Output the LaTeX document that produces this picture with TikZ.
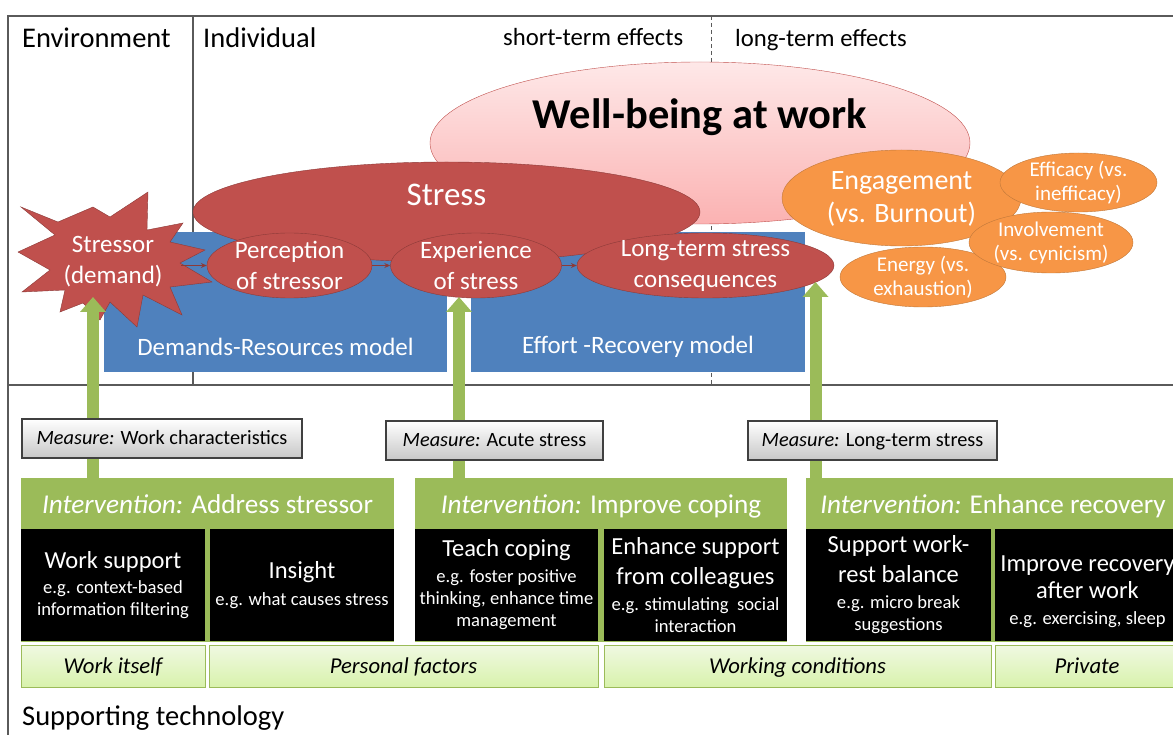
\documentclass[tikz,border=0pt]{standalone}
\usepackage{fontspec}
\setmainfont{Carlito}
\usetikzlibrary{shapes.geometric,arrows.meta}

\definecolor{stressred}{HTML}{C0504D}
\definecolor{stressline}{HTML}{8C3A38}
\definecolor{modelblue}{HTML}{4F81BD}
\definecolor{engorange}{HTML}{F79646}
\definecolor{engline}{HTML}{C0783A}
\definecolor{intgreen}{HTML}{9BBB59}
\definecolor{wbtop}{HTML}{FEE8E8}
\definecolor{wbbottom}{HTML}{FBB2B2}
\definecolor{framegray}{HTML}{5A5A5A}
\definecolor{areatop}{HTML}{F0F9E2}
\definecolor{areabottom}{HTML}{D8F2AC}

\newcommand{\fsz}[2]{\fontsize{#1}{#2}\selectfont}
\newcommand{\bigline}[1]{{\fsz{24.5}{30}#1}}

\begin{document}
\begin{tikzpicture}[x=1pt,y=-1pt,
  every node/.style={inner sep=0pt},
  frameline/.style={draw=framegray, line width=1.4pt},
  toplabel/.style={anchor=base west, font=\fsz{28.5}{34}},
  phase/.style={ellipse, draw=stressline, fill=stressred, minimum height=65pt},
  phasetext/.style={text=white, align=center, font=\fsz{25}{31}},
  effect/.style={ellipse, draw=engline, fill=engorange},
  effecttext/.style={text=white, align=center, font=\fsz{21}{24}},
  modelbox/.style={fill=modelblue, minimum height=140pt},
  modeltext/.style={text=white, font=\fsz{25}{30}},
  smallarrow/.style={draw=stressline, line width=0.9pt, -{Stealth[length=6pt,width=5pt]}},
  liftarrow/.style={draw=intgreen, line width=12pt, -{Triangle[width=25pt,length=15pt]}},
  measurebox/.style={draw=black!75, line width=1.2pt, top color=white, bottom color=black!22, font=\fsz{20.3}{24}, minimum height=39pt, text height=14pt, text depth=2pt},
  intbox/.style={fill=intgreen, minimum height=164pt},
  inthead/.style={text=white, font=\fsz{27.2}{32}, text height=19pt, text depth=3pt},
  tipbox/.style={fill=black, text=white, align=center, minimum height=112pt, font=\fsz{18.6}{22}},
  areabar/.style={draw=intgreen, line width=1pt, top color=areatop, bottom color=areabottom, minimum height=42pt, font=\fsz{22.7}{26}\itshape, text height=16pt, text depth=2pt}]
\useasboundingbox (0,0) rectangle (1173,735);

\draw[frameline] (1173,16) -- (8,16) -- (8,735);
\draw[frameline] (8,385) -- (1173,385);
\draw[frameline] (193,16) -- (193,385);
\draw[draw=framegray, line width=1pt, dash pattern=on 4pt off 3pt] (711,16) -- (711,385);

\node[toplabel] (environment) at (22,48) {Environment};
\node[toplabel] (individual) at (203,48) {Individual};
\node[toplabel, font=\fsz{24.7}{30}] (shortterm) at (503,46) {short-term effects};
\node[toplabel, font=\fsz{24.7}{30}] (longtermfx) at (735,47) {long-term effects};

\node[ellipse, draw=stressred, top color=wbtop, bottom color=wbbottom, minimum width=540pt, minimum height=162pt] (wellbeing) at (700,143) {};
\node[font=\fsz{42.5}{48}\bfseries] (wellbeingtext) at (700,117) {Well-being at work};

\node[modelbox, minimum width=343pt] (drmodel) at (275.5,302) {};
\node[modeltext] (drtext) at (275.5,347) {Demands-Resources model};
\node[modelbox, minimum width=334pt] (ermodel) at (638,302) {};
\node[modeltext] (ertext) at (638,347) {Effort -Recovery model};

\node[ellipse, draw=stressline, fill=stressred, minimum width=507pt, minimum height=100pt] (stress) at (446.5,212) {};
\node[text=white, font=\fsz{33}{38}] (stresstext) at (446.5,195) {Stress};

\node[effect, minimum width=239pt, minimum height=96pt] (engagement) at (901.5,198) {};
\node[effecttext, font=\fsz{28}{33}] (engagementtext) at (901.5,199) {Engagement\\(vs. Burnout)};
\node[effect, minimum width=166pt, minimum height=60pt] (energy) at (923,277) {};
\node[effecttext] (energytext) at (923,277) {Energy (vs.\\exhaustion)};
\node[effect, minimum width=157pt, minimum height=59pt] (efficacy) at (1078.5,182.5) {};
\node[effecttext] (efficacytext) at (1078.5,182.5) {Efficacy (vs.\\inefficacy)};
\node[effect, minimum width=164pt, minimum height=61pt] (involvement) at (1051,242.5) {};
\node[effecttext] (involvementtext) at (1051,242.5) {Involvement\\(vs. cynicism)};

\filldraw[fill=stressred, draw=stressline] (21,207) -- (58,222) -- (93,207) -- (110,217) -- (148,192) -- (147,230) -- (183,223) -- (170,242) -- (205,250) -- (180,263) -- (212,282) -- (170,287) -- (182,315) -- (143,295) -- (137,327) -- (110,302) -- (100,320) -- (83,303) -- (60,312) -- (65,290) -- (22,292) -- (50,270) -- (18,252) -- (55,235) -- cycle;
\node[phasetext] (stressor) at (113,262) {Stressor\\(demand)};
\coordinate (stressortip) at (181,265.5);

\node[phase, minimum width=165pt] (perception) at (289.5,265.5) {};
\node[phasetext] (perceptiontext) at (289.5,265.5) {Perception\\of stressor};
\node[phase, minimum width=171pt] (experience) at (476,265.5) {};
\node[phasetext] (experiencetext) at (476,265.5) {Experience\\of stress};
\node[phase, minimum width=257pt] (longterm) at (705.5,265.5) {};
\node[phasetext] (longtermtext) at (705.5,265.5) {Long-term stress\\consequences};

\draw[smallarrow] (stressortip) -- (perception);
\draw[smallarrow] (perception) -- (experience);
\draw[smallarrow] (experience) -- (longterm);

\node[intbox, minimum width=373pt] (int1) at (207.5,560) {};
\node[inthead] (int1head) at (207.5,505) {\textit{Intervention:} Address stressor};
\node[intbox, minimum width=372pt] (int2) at (601,560) {};
\node[inthead] (int2head) at (601,505) {\textit{Intervention:} Improve coping};
\node[intbox, minimum width=374pt] (int3) at (993,560) {};
\node[inthead] (int3head) at (993,505) {\textit{Intervention:} Enhance recovery};

\coordinate (tip1) at (93,297);
\coordinate (tip2) at (459,297);
\coordinate (tip3) at (815.5,282);
\draw[liftarrow] (int1.north -| tip1) -- (tip1);
\draw[liftarrow] (int2.north -| tip2) -- (tip2);
\draw[liftarrow] (int3.north -| tip3) -- (tip3);

\node[measurebox, minimum width=280pt] (measure1) at (162,438.5) {\textit{Measure:} Work characteristics};
\node[measurebox, minimum width=217pt] (measure2) at (494.5,440.5) {\textit{Measure:} Acute stress};
\node[measurebox, minimum width=249pt] (measure3) at (872.5,440.5) {\textit{Measure:} Long-term stress};

\node[tipbox, minimum width=184pt] (worksupport) at (113,585) {\bigline{Work support}\\[3pt]e.g. context-based\\information filtering};
\node[tipbox, minimum width=184pt] (insight) at (302,585) {\bigline{Insight}\\[5pt]e.g. what causes stress};
\node[tipbox, minimum width=183pt] (teachcoping) at (506.5,585) {\bigline{Teach coping}\\[4pt]e.g. foster positive\\thinking, enhance time\\management};
\node[tipbox, minimum width=183pt] (colleagues) at (695.5,585) {\bigline{Enhance support}\\[8pt]\bigline{from colleagues}\\[4pt]e.g. stimulating\ \ social\\interaction};
\node[tipbox, minimum width=185pt] (workrest) at (898.5,585) {\bigline{Support work-}\\[8pt]\bigline{rest balance}\\[4pt]e.g. micro break\\suggestions};
\node[tipbox, minimum width=185pt] (afterwork) at (1087.5,585) {\bigline{\rule{0pt}{29pt}Improve recovery}\\[5pt]\bigline{after work}\\[4pt]e.g. exercising, sleep};

\node[areabar, minimum width=184pt] (workitself) at (113,666) {Work itself};
\node[areabar, minimum width=389pt] (personal) at (403.5,666) {Personal factors};
\node[areabar, minimum width=387pt] (conditions) at (797.5,666) {Working conditions};
\node[areabar, minimum width=184pt] (private) at (1087,666) {Private};

\node[toplabel] (supporting) at (22,725) {Supporting technology};
\end{tikzpicture}
\end{document}
